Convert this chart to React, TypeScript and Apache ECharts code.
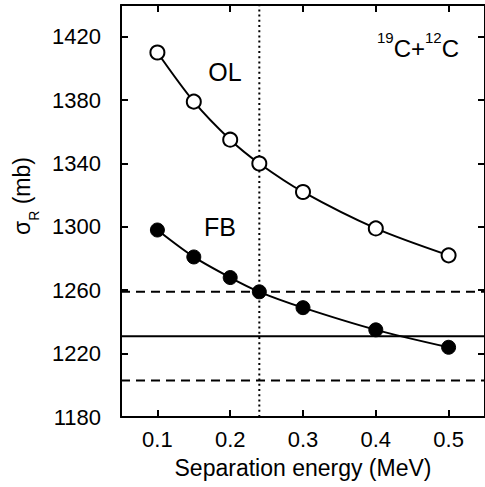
import React, { useEffect, useRef } from "react";
import * as echarts from "echarts";

// ---- data ----
const energies = [0.1, 0.15, 0.2, 0.24, 0.3, 0.4, 0.5];
const olValues = [1410, 1379, 1355, 1340, 1322, 1299, 1282];
const fbValues = [1298, 1281, 1268, 1259, 1249, 1235, 1224];
const bandCenter = 1231;
const bandLow = 1203;
const bandHigh = 1259;
const sepEnergy = 0.24;
const xRange = [0.05, 0.55];
const yRange = [1180, 1440];
const xTicks = [0.1, 0.2, 0.3, 0.4, 0.5];
const yTicks = [1180, 1220, 1260, 1300, 1340, 1380, 1420];

const FONT = "'Liberation Sans', Arial, Helvetica, sans-serif";

export default function App() {
  const ref = useRef<HTMLDivElement>(null);
  useEffect(() => {
    if (!ref.current) return;
    const chart = echarts.init(ref.current, undefined, { renderer: "svg" });
    const axisLine = { show: true, lineStyle: { color: "#000", width: 2 } };
    const tick = (vals: number[]) => ({
      show: true,
      inside: true,
      length: 7,
      customValues: vals,
      lineStyle: { color: "#000", width: 2 },
    });
    const hLine = (v: number) => [
      [xRange[0], v],
      [xRange[1], v],
    ];
    const option: any = {
      animation: false,
      backgroundColor: "#fff",
      textStyle: { fontFamily: FONT, color: "#000" },
      grid: { left: 121, right: -4, top: 5, bottom: 70 },
      xAxis: [
        {
          type: "value",
          position: "bottom",
          min: xRange[0],
          max: xRange[1],
          axisLine,
          axisTick: tick(xTicks),
          splitLine: { show: false },
          axisLabel: {
            customValues: xTicks,
            formatter: (v: number) => v.toFixed(1),
            color: "#000",
            fontSize: 22,
            fontFamily: FONT,
            margin: 11,
          },
          name: "Separation energy (MeV)",
          nameLocation: "middle",
          nameGap: 39,
          nameTextStyle: { color: "#000", fontSize: 23, fontFamily: FONT },
        },
        {
          type: "value",
          position: "top",
          min: xRange[0],
          max: xRange[1],
          axisLine,
          axisTick: tick(xTicks),
          splitLine: { show: false },
          axisLabel: { show: false },
        },
      ],
      yAxis: [
        {
          type: "value",
          position: "left",
          min: yRange[0],
          max: yRange[1],
          axisLine,
          axisTick: tick(yTicks),
          splitLine: { show: false },
          axisLabel: {
            customValues: yTicks,
            formatter: (v: number) => String(v),
            color: "#000",
            fontSize: 22,
            fontFamily: FONT,
            margin: 20,
          },
          name: "{s|σ}{sub|R}{s| (mb)}",
          nameLocation: "middle",
          nameRotate: 90,
          nameGap: 86,
          nameTextStyle: {
            color: "#000",
            fontFamily: FONT,
            padding: [0, 0, 0, 30],
            rich: {
              s: { fontSize: 23, fontFamily: FONT, color: "#000", lineHeight: 26 },
              sub: {
                fontSize: 14,
                fontFamily: FONT,
                color: "#000",
                lineHeight: 26,
                verticalAlign: "bottom",
                padding: [0, 0, -6, 0],
              },
            },
          },
        },
        {
          type: "value",
          position: "right",
          min: yRange[0],
          max: yRange[1],
          axisLine,
          axisTick: tick(yTicks),
          splitLine: { show: false },
          axisLabel: { show: false },
        },
      ],
      series: [
        {
          type: "line",
          data: hLine(bandHigh),
          symbol: "none",
          lineStyle: { color: "#000", width: 2, type: [9, 6] },
          z: 1,
        },
        {
          type: "line",
          data: hLine(bandLow),
          symbol: "none",
          lineStyle: { color: "#000", width: 2, type: [9, 6] },
          z: 1,
        },
        {
          type: "line",
          data: hLine(bandCenter),
          symbol: "none",
          lineStyle: { color: "#000", width: 2 },
          z: 1,
        },
        {
          type: "line",
          data: [
            [sepEnergy, yRange[0]],
            [sepEnergy, yRange[1]],
          ],
          symbol: "none",
          lineStyle: { color: "#000", width: 2, type: [2, 3.2] },
          z: 1,
        },
        {
          type: "line",
          name: "OL",
          data: energies.map((e, i) => [e, olValues[i]]),
          smooth: 0.3,
          symbol: "circle",
          symbolSize: 14,
          itemStyle: { color: "#fff", borderColor: "#000", borderWidth: 2 },
          lineStyle: { color: "#000", width: 2 },
          z: 3,
        },
        {
          type: "line",
          name: "FB",
          data: energies.map((e, i) => [e, fbValues[i]]),
          smooth: 0.3,
          symbol: "circle",
          symbolSize: 14,
          itemStyle: { color: "#000", borderColor: "#000", borderWidth: 1 },
          lineStyle: { color: "#000", width: 2 },
          z: 3,
        },
      ],
      graphic: [
        {
          type: "text",
          x: 225,
          y: 72,
          style: {
            text: "OL",
            fontSize: 25,
            fontFamily: FONT,
            fill: "#000",
            textAlign: "center",
            textVerticalAlign: "middle",
          },
        },
        {
          type: "text",
          x: 220,
          y: 227,
          style: {
            text: "FB",
            fontSize: 25,
            fontFamily: FONT,
            fill: "#000",
            textAlign: "center",
            textVerticalAlign: "middle",
          },
        },
        {
          type: "text",
          x: 459,
          y: 30,
          style: {
            text: "{sup|19}{b|C+}{sup|12}{b|C}",
            textAlign: "right",
            textVerticalAlign: "top",
            fontFamily: FONT,
            fill: "#000",
            rich: {
              b: { fontSize: 24, fontFamily: FONT, fill: "#000", lineHeight: 30, verticalAlign: "bottom" },
              sup: { fontSize: 15, fontFamily: FONT, fill: "#000", lineHeight: 30, verticalAlign: "top", padding: [0, 0, 10, 0] },
            },
          },
        },
      ],
    };
    chart.setOption(option);
    return () => chart.dispose();
  }, []);
  return (
    <div
      ref={ref}
      style={{ position: "absolute", left: 0, top: 0, width: 485, height: 487 }}
    />
  );
}
